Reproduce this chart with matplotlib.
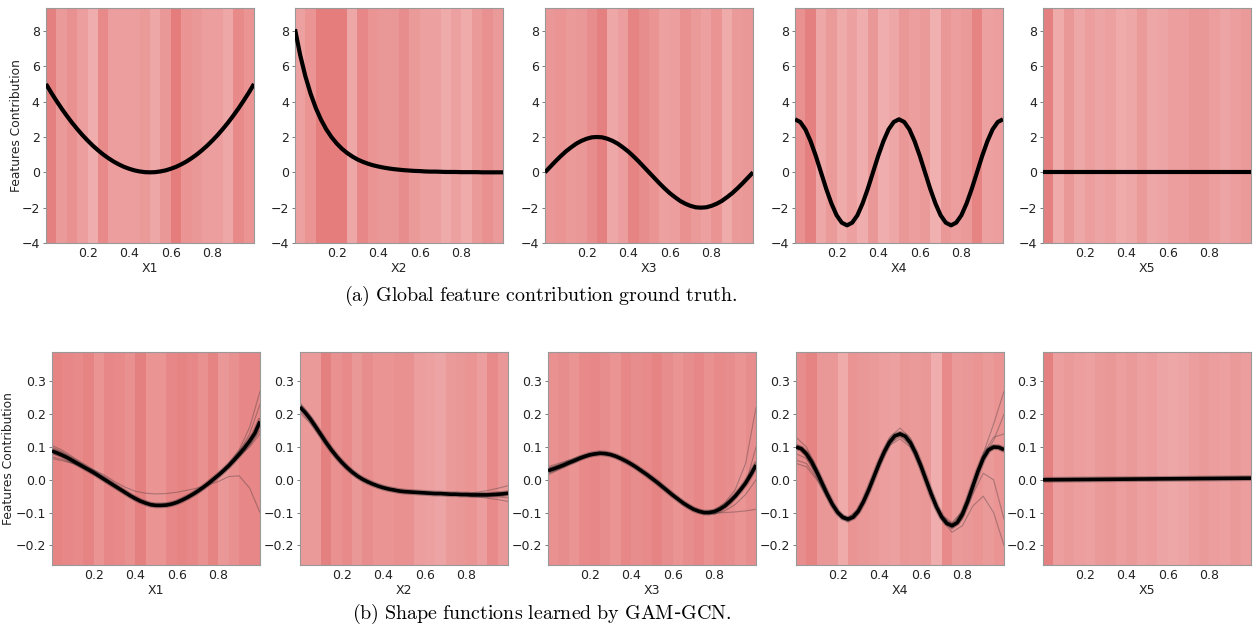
import numpy as np
import matplotlib
matplotlib.use("Agg")
import matplotlib.pyplot as plt

plt.rcParams['mathtext.fontset'] = 'cm'

features = ['X1', 'X2', 'X3', 'X4', 'X5']

# x grid of the curves (fine grid for main curves, coarse grid for the bootstrap runs)
x_fine = np.linspace(0, 1, 41)
x_coarse = np.linspace(0, 1, 21)
bin_edges = np.linspace(0, 1, 21)

# ---- (a) ground truth ----
truth = {
    'X1': [5.0, 4.51, 4.05, 3.61, 3.2, 2.81, 2.45, 2.11, 1.8, 1.51, 1.25, 1.01, 0.8, 0.61, 0.45, 0.31,
           0.2, 0.11, 0.05, 0.01, 0.0, 0.01, 0.05, 0.11, 0.2, 0.31, 0.45, 0.61, 0.8, 1.01, 1.25, 1.51,
           1.8, 2.11, 2.45, 2.81, 3.2, 3.61, 4.05, 4.51, 5.0],
    'X2': [8.1, 6.63, 5.43, 4.45, 3.64, 2.98, 2.44, 2.0, 1.64, 1.34, 1.1, 0.9, 0.73, 0.6, 0.49, 0.4,
           0.33, 0.27, 0.22, 0.18, 0.15, 0.12, 0.1, 0.08, 0.07, 0.05, 0.04, 0.04, 0.03, 0.02, 0.02, 0.02,
           0.01, 0.01, 0.01, 0.01, 0.0, 0.0, 0.0, 0.0, 0.0],
    'X3': [0.0, 0.31, 0.62, 0.91, 1.18, 1.41, 1.62, 1.78, 1.9, 1.98, 2.0, 1.98, 1.9, 1.78, 1.62, 1.41,
           1.18, 0.91, 0.62, 0.31, 0.0, -0.31, -0.62, -0.91, -1.18, -1.41, -1.62, -1.78, -1.9, -1.98,
           -2.0, -1.98, -1.9, -1.78, -1.62, -1.41, -1.18, -0.91, -0.62, -0.31, 0.0],
    'X4': [3.0, 2.85, 2.43, 1.76, 0.93, 0.0, -0.93, -1.76, -2.43, -2.85, -3.0, -2.85, -2.43, -1.76,
           -0.93, 0.0, 0.93, 1.76, 2.43, 2.85, 3.0, 2.85, 2.43, 1.76, 0.93, 0.0, -0.93, -1.76, -2.43,
           -2.85, -3.0, -2.85, -2.43, -1.76, -0.93, 0.0, 0.93, 1.76, 2.43, 2.85, 3.0],
    'X5': [0.0] * 41,
}

# data density per bin (0 = light, 1 = dark)
density_a = {
    'X1': [0.9, 0.5, 0.65, 0.45, 0.2, 0.75, 0.45, 0.45, 0.45, 0.5, 0.3, 0.55, 0.95, 0.6, 0.55, 0.45, 0.45, 0.3, 0.75, 0.6],
    'X2': [0.4, 0.6, 0.95, 0.95, 0.95, 0.3, 0.8, 0.6, 0.55, 0.55, 0.7, 0.5, 0.4, 0.4, 0.25, 0.4, 0.25, 0.5, 0.65, 0.5],
    'X3': [0.55, 0.6, 0.5, 0.55, 0.7, 0.9, 0.3, 0.45, 0.85, 0.7, 0.6, 0.4, 0.45, 0.65, 0.5, 0.4, 0.6, 0.25, 0.5, 0.55],
    'X4': [0.65, 0.9, 0.3, 0.5, 0.25, 0.4, 0.2, 0.55, 0.2, 0.3, 0.55, 0.45, 0.5, 0.15, 0.55, 0.45, 0.5, 0.85, 0.4, 0.45],
    'X5': [0.9, 0.25, 0.55, 0.3, 0.45, 0.35, 0.4, 0.25, 0.3, 0.5, 0.3, 0.35, 0.45, 0.45, 0.55, 0.55, 0.45, 0.35, 0.45, 0.5],
}

# ---- (b) learned shape functions ----
learned = {
    'X1': [0.088, 0.082, 0.075, 0.067, 0.058, 0.049, 0.04, 0.031, 0.022, 0.012, 0.002, -0.008, -0.018,
           -0.028, -0.038, -0.048, -0.057, -0.065, -0.071, -0.076, -0.078, -0.078, -0.077, -0.074,
           -0.069, -0.062, -0.054, -0.045, -0.035, -0.024, -0.012, 0.001, 0.014, 0.028, 0.043, 0.06,
           0.078, 0.097, 0.118, 0.142, 0.178],
    'X2': [0.222, 0.205, 0.185, 0.162, 0.138, 0.114, 0.092, 0.072, 0.054, 0.038, 0.024, 0.012, 0.002,
           -0.006, -0.013, -0.019, -0.024, -0.028, -0.031, -0.034, -0.036, -0.037, -0.038, -0.039,
           -0.04, -0.041, -0.042, -0.042, -0.043, -0.044, -0.044, -0.045, -0.045, -0.046, -0.046,
           -0.046, -0.046, -0.045, -0.044, -0.043, -0.041],
    'X3': [0.028, 0.033, 0.039, 0.045, 0.052, 0.058, 0.065, 0.071, 0.076, 0.079, 0.081, 0.08, 0.077,
           0.072, 0.065, 0.057, 0.048, 0.038, 0.027, 0.016, 0.004, -0.008, -0.021, -0.034, -0.047,
           -0.059, -0.071, -0.081, -0.09, -0.096, -0.1, -0.1, -0.097, -0.09, -0.08, -0.066, -0.05,
           -0.031, -0.01, 0.016, 0.045],
    'X4': [0.1, 0.095, 0.079, 0.055, 0.024, -0.01, -0.044, -0.075, -0.099, -0.115, -0.12, -0.114,
           -0.095, -0.066, -0.03, 0.01, 0.05, 0.086, 0.115, 0.134, 0.14, 0.133, 0.113, 0.082, 0.043,
           0.0, -0.043, -0.082, -0.113, -0.133, -0.14, -0.131, -0.105, -0.066, -0.02, 0.026, 0.065,
           0.091, 0.1, 0.099, 0.092],
    'X5': [0.0, 0.0001, 0.0003, 0.0004, 0.0005, 0.0006, 0.0008, 0.0009, 0.001, 0.0011, 0.0013, 0.0014,
           0.0015, 0.0016, 0.0018, 0.0019, 0.002, 0.0021, 0.0023, 0.0024, 0.0025, 0.0026, 0.0028,
           0.0029, 0.003, 0.0031, 0.0033, 0.0034, 0.0035, 0.0036, 0.0038, 0.0039, 0.004, 0.0041,
           0.0043, 0.0044, 0.0045, 0.0046, 0.0048, 0.0049, 0.005],
}

# individual runs (faint lines)
runs = {
    'X1': [
        [0.065, 0.058, 0.05, 0.042, 0.03, 0.015, -0.005, -0.022, -0.035, -0.041, -0.043, -0.042, -0.038, -0.032, -0.025, -0.016, -0.005, 0.01, 0.012, -0.025, -0.1],
        [0.105, 0.09, 0.07, 0.05, 0.03, 0.008, -0.014, -0.035, -0.055, -0.07, -0.078, -0.078, -0.07, -0.055, -0.034, -0.01, 0.018, 0.05, 0.092, 0.16, 0.27],
        [0.07, 0.062, 0.05, 0.035, 0.018, 0.0, -0.02, -0.04, -0.058, -0.072, -0.08, -0.08, -0.072, -0.057, -0.037, -0.014, 0.012, 0.04, 0.07, 0.105, 0.15],
        [0.1, 0.085, 0.065, 0.045, 0.025, 0.005, -0.016, -0.037, -0.056, -0.07, -0.077, -0.076, -0.068, -0.053, -0.033, -0.01, 0.017, 0.048, 0.085, 0.14, 0.23],
        [0.08, 0.07, 0.055, 0.038, 0.02, 0.0, -0.02, -0.04, -0.058, -0.072, -0.079, -0.079, -0.071, -0.056, -0.036, -0.013, 0.012, 0.04, 0.072, 0.1, 0.14],
    ],
    'X2': [
        [0.235, 0.195, 0.145, 0.097, 0.057, 0.026, 0.003, -0.013, -0.024, -0.031, -0.035, -0.038, -0.04, -0.041, -0.042, -0.042, -0.041, -0.038, -0.033, -0.026, -0.018],
        [0.205, 0.172, 0.13, 0.087, 0.05, 0.021, 0.0, -0.015, -0.025, -0.032, -0.037, -0.039, -0.041, -0.043, -0.045, -0.047, -0.049, -0.052, -0.056, -0.06, -0.066],
        [0.228, 0.19, 0.142, 0.095, 0.056, 0.025, 0.002, -0.014, -0.025, -0.032, -0.036, -0.039, -0.041, -0.043, -0.044, -0.045, -0.046, -0.047, -0.05, -0.052, -0.055],
    ],
    'X3': [
        [0.035, 0.045, 0.057, 0.069, 0.079, 0.083, 0.079, 0.066, 0.049, 0.028, 0.005, -0.02, -0.046, -0.07, -0.088, -0.097, -0.093, -0.07, -0.03, 0.05, 0.22],
        [0.02, 0.033, 0.047, 0.061, 0.073, 0.079, 0.076, 0.064, 0.047, 0.026, 0.003, -0.022, -0.048, -0.072, -0.09, -0.1, -0.102, -0.1, -0.098, -0.095, -0.09],
        [0.04, 0.05, 0.06, 0.071, 0.08, 0.084, 0.079, 0.066, 0.048, 0.026, 0.002, -0.023, -0.049, -0.073, -0.092, -0.103, -0.105, -0.095, -0.075, -0.045, 0.0],
        [0.015, 0.03, 0.045, 0.06, 0.072, 0.078, 0.075, 0.063, 0.047, 0.027, 0.005, -0.019, -0.045, -0.069, -0.088, -0.098, -0.096, -0.082, -0.055, -0.015, 0.1],
    ],
    'X4': [
        [0.13, 0.1, 0.035, -0.04, -0.1, -0.125, -0.1, -0.03, 0.06, 0.13, 0.158, 0.128, 0.05, -0.04, -0.115, -0.15, -0.12, -0.03, 0.08, 0.17, 0.27],
        [0.05, 0.04, 0.0, -0.055, -0.105, -0.13, -0.105, -0.04, 0.04, 0.105, 0.125, 0.1, 0.035, -0.048, -0.12, -0.16, -0.14, -0.08, -0.05, -0.1, -0.2],
        [0.08, 0.065, 0.015, -0.05, -0.1, -0.115, -0.09, -0.025, 0.055, 0.12, 0.145, 0.118, 0.045, -0.04, -0.108, -0.13, -0.095, -0.01, 0.08, 0.13, 0.14],
        [0.11, 0.088, 0.028, -0.042, -0.097, -0.118, -0.093, -0.028, 0.052, 0.117, 0.143, 0.115, 0.044, -0.045, -0.115, -0.145, -0.115, -0.045, 0.02, 0.0, -0.12],
        [0.06, 0.05, 0.005, -0.05, -0.1, -0.122, -0.098, -0.033, 0.047, 0.11, 0.132, 0.108, 0.04, -0.045, -0.112, -0.135, -0.1, -0.015, 0.07, 0.12, 0.2],
    ],
    'X5': [],
}

density_b = {
    'X1': [0.85, 0.8, 0.75, 0.85, 0.6, 0.8, 0.75, 0.65, 0.9, 0.6, 0.6, 0.8, 0.85, 0.8, 0.65, 0.85, 0.55, 0.65, 0.8, 0.8],
    'X2': [0.5, 0.5, 0.9, 0.65, 0.75, 0.55, 0.7, 0.6, 0.6, 0.65, 0.65, 0.45, 0.4, 0.35, 0.5, 0.55, 0.6, 0.45, 0.75, 0.55],
    'X3': [0.65, 0.7, 0.6, 0.75, 0.8, 0.7, 0.6, 0.8, 0.7, 0.75, 0.85, 0.7, 0.6, 0.7, 0.8, 0.65, 0.75, 0.7, 0.6, 0.7],
    'X4': [0.7, 0.85, 0.55, 0.55, 0.25, 0.6, 0.55, 0.5, 0.45, 0.4, 0.55, 0.5, 0.55, 0.2, 0.75, 0.5, 0.55, 0.6, 0.5, 0.6],
    'X5': [0.9, 0.45, 0.5, 0.45, 0.4, 0.5, 0.55, 0.45, 0.5, 0.4, 0.45, 0.35, 0.3, 0.35, 0.45, 0.5, 0.45, 0.4, 0.5, 0.45],
}

light = np.array([242, 186, 186]) / 255
dark = np.array([228, 122, 122]) / 255


def shade(ax, dens):
    for i, d in enumerate(dens):
        c = light + (dark - light) * d
        ax.axvspan(bin_edges[i], bin_edges[i + 1], color=c, lw=0, zorder=0)


def style(ax, ylim, yticks, label, ylab_x):
    ax.set_xlim(0, 1)
    ax.set_ylim(*ylim)
    ax.set_xticks([0.2, 0.4, 0.6, 0.8])
    ax.set_yticks(yticks)
    ax.tick_params(axis='x', length=0, labelsize=9, pad=3, labelcolor='#222222')
    ax.tick_params(axis='y', length=2.5, width=0.6, color='#666666', labelsize=9, pad=2, labelcolor='#222222')
    for s in ax.spines.values():
        s.set_color('#999999')
        s.set_linewidth(0.8)
    ax.set_xlabel(label, fontsize=9, labelpad=1, color='#222222')
    if ylab_x is not None:
        ax.set_ylabel('Features Contribution', fontsize=8.8, color='#222222')
        ax.yaxis.set_label_coords(ylab_x, 0.5)


W, H = 1253, 630
fig = plt.figure(figsize=(W / 100, H / 100), dpi=100)

top_lefts = [46, 295, 545, 795, 1043]
bot_lefts = [52, 300, 548, 796, 1043]

for k, name in enumerate(features):
    ax = fig.add_axes([top_lefts[k] / W, 1 - 243 / H, 208 / W, 235 / H])
    shade(ax, density_a[name])
    ax.plot(x_fine, truth[name], color='black', lw=3, zorder=3, solid_capstyle='butt')
    style(ax, (-4, 9.3), [-4, -2, 0, 2, 4, 6, 8], name, -0.11 if k == 0 else None)

    ax = fig.add_axes([bot_lefts[k] / W, 1 - 565 / H, 208 / W, 213 / H])
    shade(ax, density_b[name])
    for r in runs[name]:
        ax.plot(x_coarse, r, color='#333333', lw=0.8, alpha=0.35, zorder=2)
    ax.plot(x_fine, learned[name], color='#222222', lw=4.2, alpha=0.35, zorder=2)
    ax.plot(x_fine, learned[name], color='black', lw=2.6, zorder=3, solid_capstyle='butt')
    style(ax, (-0.26, 0.39), [-0.2, -0.1, 0.0, 0.1, 0.2, 0.3], name, -0.18 if k == 0 else None)

fig.text(541 / W, 1 - 296 / H, r'$\mathrm{(a)\ Global\ feature\ contribution\ ground\ truth.}$',
         ha='center', va='center', fontsize=14.4)
fig.text(542 / W, 1 - 614 / H, r'$\mathrm{(b)\ Shape\ functions\ learned\ by\ GAM}$-$\mathrm{GCN.}$',
         ha='center', va='center', fontsize=14.4)

fig.savefig('out.png', dpi=100)
